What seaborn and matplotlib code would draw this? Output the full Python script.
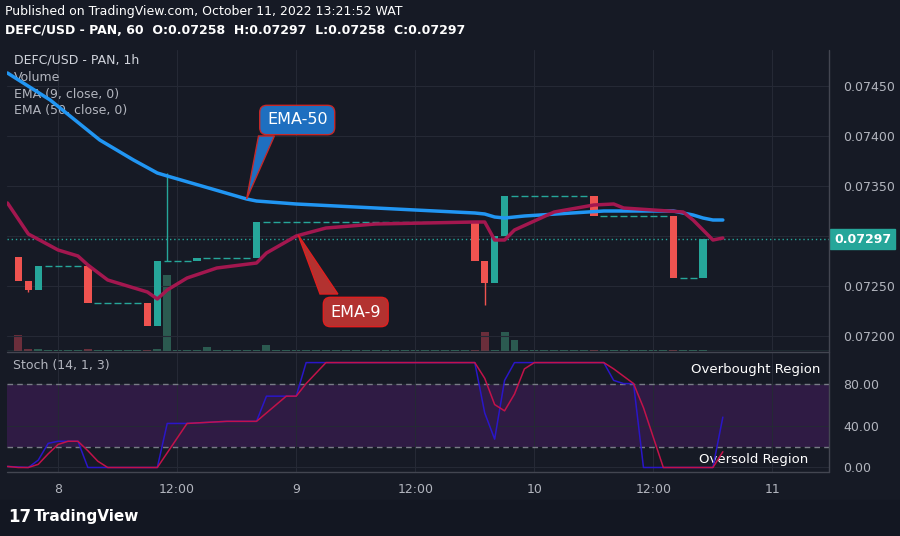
import numpy as np
import pandas as pd
import matplotlib
matplotlib.use('Agg')
import matplotlib.pyplot as plt
from matplotlib.patches import Polygon
import seaborn as sns

# hourly candles, index 0 = Oct 8 00:00
bar_idx = list(range(-4, 68))
first_open = 0.07279
closes = [0.07255, 0.07246, 0.07270, 0.07270, 0.07270, 0.07270, 0.07270, 0.07233,
          0.07233, 0.07233, 0.07233, 0.07233, 0.07233, 0.07210, 0.07275, 0.07275,
          0.07275, 0.07275, 0.07278, 0.07278, 0.07278, 0.07278, 0.07278, 0.07278,
          0.07314, 0.07314, 0.07314, 0.07314, 0.07314, 0.07314, 0.07314, 0.07314,
          0.07314, 0.07314, 0.07314, 0.07314, 0.07314, 0.07314, 0.07314, 0.07314,
          0.07314, 0.07314, 0.07314, 0.07314, 0.07314, 0.07314, 0.07275, 0.07253,
          0.07300, 0.07340, 0.07340, 0.07340, 0.07340, 0.07340, 0.07340, 0.07340,
          0.07340, 0.07340, 0.07320, 0.07320, 0.07320, 0.07320, 0.07320, 0.07320,
          0.07320, 0.07320, 0.07258, 0.07258, 0.07258, 0.07297]
wick_high = {11: 0.07363}
wick_low = {-3: 0.07244, 43: 0.07231}
volumes = {-4: 16, -3: 2, -2: 2, 3: 2, 10: 2, 11: 76, 15: 4, 21: 6, 43: 19,
           44: 1, 45: 19, 46: 11, 56: 1, 64: 1, 67: 12}

ema50_idx = [-5.1, -0.8, 4.2, 7.6, 10, 11, 19, 20, 24, 40, 42, 43, 44, 45, 47, 55, 62, 64, 65, 66, 67]
ema50_val = [0.07463, 0.07436, 0.07396, 0.07376, 0.07363, 0.07360, 0.07337, 0.07335, 0.07332,
             0.07324, 0.07323, 0.07322, 0.07319, 0.07318, 0.07320, 0.07325, 0.07325, 0.07321,
             0.07318, 0.07316, 0.07316]
ema9_idx = [-5.1, -3, 0, 2, 3, 5, 9, 10, 11, 13, 16, 20, 21, 24, 27, 32, 42, 43, 44, 45, 46,
            50, 54, 56, 57, 63, 64, 66, 67]
ema9_val = [0.07333, 0.07302, 0.07286, 0.07280, 0.07271, 0.07256, 0.07244, 0.07237, 0.07246,
            0.07258, 0.07268, 0.07273, 0.07283, 0.07300, 0.07308, 0.07312, 0.07314, 0.07314,
            0.07296, 0.07296, 0.07306, 0.07324, 0.07331, 0.07332, 0.07328, 0.07324, 0.07316,
            0.07296, 0.07298]

k_idx = [-5.1, -3, -2, -1, 0, 2, 3, 10, 11, 13, 17, 20, 21, 24, 25, 42, 43, 44, 45, 46, 55,
         56, 57, 58, 59, 66, 67]
k_val = [1, 0, 7, 23, 25, 25, 0, 0, 42, 42, 44, 44, 68, 68, 100, 100, 52, 27, 83, 100, 100,
         83, 80, 80, 0, 0, 48]
d_idx = [-5.1, -4, -3, -2, -1, 0, 1, 2, 3, 4, 5, 10, 11, 13, 17, 20, 21, 23, 24, 25, 27, 42,
         43, 44, 45, 46, 47, 48, 55, 56, 58, 59, 61, 66, 67]
d_val = [1, 0, 0, 3, 13, 22, 25, 25, 16, 6, 0, 0, 14, 42, 44, 44, 52, 68, 68, 80, 100, 100,
         85, 60, 54, 70, 94, 100, 100, 94, 80, 57, 0, 0, 15]

time_ticks = [0, 12, 24, 36, 48, 60, 72]
time_labels = ['8', '12:00', '9', '12:00', '10', '12:00', '11']
price_ticks = [0.07200, 0.07250, 0.07300, 0.07350, 0.07400, 0.07450]
last_price = 0.07297

BG = '#161a25'
GRID = '#252935'
TXT = '#b2b5be'
UP = '#26a69a'
DOWN = '#ef5350'

sns.set_theme(style='dark')
plt.rcParams['patch.edgecolor'] = 'none'
W, H = 900, 536
fig = plt.figure(figsize=(9, 5.36), dpi=100, facecolor=BG)


def frac(x0, y0, x1, y1):
    return [x0 / W, 1 - y1 / H, (x1 - x0) / W, (y1 - y0) / H]


ax = fig.add_axes(frac(7, 50, 829, 351))
axs = fig.add_axes(frac(7, 352, 829, 472))

# volume on a twin axis (behind the price pane)
axv = ax.twinx()
axv.set_ylim(0, 301)
axv.set_axis_off()

for a in (ax, axs):
    a.set_facecolor(BG)
    a.set_xlim(-5.15, 77.7)
    a.set_xticks(time_ticks)
    a.grid(True, color=GRID, lw=0.8)
    for s in a.spines.values():
        s.set_visible(False)
    a.tick_params(length=0, colors=TXT, labelsize=9)
    a.yaxis.tick_right()
    a.yaxis.set_label_position('right')

opens = [first_open] + closes[:-1]
vol_x, vol_h, vol_c = [], [], []
for i, o, c in zip(bar_idx, opens, closes):
    vol_x.append(i)
    vol_h.append(max(volumes.get(i, 0), 1))
    vol_c.append('#6b2e3b' if c < o else '#2b5a50')
axv.bar(vol_x, vol_h, width=0.8, color=vol_c, lw=0, zorder=1)
axv.axhline(0.5, color='#3b6b60', lw=1)
ax.set_zorder(axv.get_zorder() + 1)
ax.patch.set_visible(False)
fig.patches.append(plt.Rectangle((7 / W, 1 - 351 / H), 822 / W, 301 / H,
                                 transform=fig.transFigure, color=BG, zorder=-5))

# candles
for i, o, c in zip(bar_idx, opens, closes):
    col = DOWN if c < o else UP
    hi = wick_high.get(i, max(o, c))
    lo = wick_low.get(i, min(o, c))
    if hi > max(o, c) or lo < min(o, c):
        ax.vlines(i, lo, hi, color=col, lw=1, zorder=3)
    if abs(c - o) < 1e-9:
        ax.hlines(c, i - 0.35, i + 0.35, color=UP, lw=1, zorder=3)
    else:
        ax.bar(i, abs(c - o), bottom=min(o, c), width=0.75, color=col, lw=0, zorder=3)

ema = pd.DataFrame({'x': ema50_idx, 'y': ema50_val})
sns.lineplot(data=ema, x='x', y='y', ax=ax, color='#2196f3', lw=2.5, zorder=4)
ema = pd.DataFrame({'x': ema9_idx, 'y': ema9_val})
sns.lineplot(data=ema, x='x', y='y', ax=ax, color='#a3174f', lw=2.5, zorder=4)
ax.axhline(last_price, color=UP, lw=1, ls=(0, (1, 2)), zorder=2)

ax.set_ylim(0.07185, 0.07486)
ax.set_yticks(price_ticks)
# the 0.07300 label is hidden under the last-price tag
ax.set_yticklabels(['' if abs(p - last_price) < 0.0001 else '%.5f' % p for p in price_ticks])
ax.set_xticklabels([])
ax.set_xlabel('')
ax.set_ylabel('')
ax.tick_params(axis='y', pad=10)

# price label
ax.text(78.2, last_price, '%.5f' % last_price, color='white', fontsize=9, fontweight='bold',
        va='center', ha='left', zorder=10, clip_on=False,
        bbox=dict(boxstyle='square,pad=0.3', fc=UP, ec=UP))

# callouts
ax.add_patch(Polygon([[19, 0.07337], [20.2, 0.07400], [21.8, 0.07400]], closed=True,
                     fc='#1e6fc0', ec='#c62828', lw=1, zorder=6))
ax.text(24.1, 0.07416, 'EMA-50', color='white', fontsize=11.5, ha='center', va='center', zorder=7,
        bbox=dict(boxstyle='round,pad=0.45', fc='#1e6fc0', ec='#c62828', lw=1))
ax.add_patch(Polygon([[24.2, 0.07301], [26.4, 0.07242], [28.2, 0.07242]], closed=True,
                     fc='#b33230', ec='#e01f1f', lw=1, zorder=6))
ax.text(30.0, 0.07224, 'EMA-9', color='white', fontsize=11.5, ha='center', va='center', zorder=7,
        bbox=dict(boxstyle='round,pad=0.45', fc='#b33230', ec='#e01f1f', lw=1))

# stochastic
axs.axhspan(20, 80, color='#7b1fa2', alpha=0.25, lw=0, zorder=0)
axs.axhline(80, color='#787b86', lw=1, ls=(0, (4, 3)))
axs.axhline(20, color='#787b86', lw=1, ls=(0, (4, 3)))
sns.lineplot(data=pd.DataFrame({'x': k_idx, 'y': k_val}), x='x', y='y', ax=axs,
             color='#2a16c8', lw=1.1, zorder=4)
sns.lineplot(data=pd.DataFrame({'x': d_idx, 'y': d_val}), x='x', y='y', ax=axs,
             color='#c2124a', lw=1.1, zorder=5)
axs.set_ylim(-4.3, 110.1)
axs.set_yticks([0, 40, 80])
axs.set_yticklabels(['0.00', '40.00', '80.00'])
axs.set_xticklabels(time_labels)
axs.set_xlabel('')
axs.set_ylabel('')
axs.tick_params(axis='y', pad=10)
axs.tick_params(axis='x', pad=8)
axs.text(0.007, 0.86, 'Stoch (14, 1, 3)', transform=axs.transAxes, color=TXT, fontsize=9)
axs.text(0.99, 0.85, 'Overbought Region', transform=axs.transAxes, color='white',
         fontsize=9.5, ha='right', va='center')
axs.text(0.975, 0.105, 'Oversold Region', transform=axs.transAxes, color='white',
         fontsize=9.5, ha='right', va='center')

# pane separators and scale border
fig.add_artist(plt.Line2D([7 / W, 829 / W], [1 - 351.5 / H] * 2, color='#434651', lw=1))
fig.add_artist(plt.Line2D([829 / W] * 2, [1 - 472 / H, 1 - 50 / H], color='#434651', lw=1))
fig.add_artist(plt.Line2D([7 / W, 829 / W], [1 - 472 / H] * 2, color='#434651', lw=1))

# legend texts
ax.text(0.008, 0.955, 'DEFC/USD - PAN, 1h', transform=ax.transAxes, color='#d1d4dc', fontsize=9)
for k, t in enumerate(['Volume', 'EMA (9, close, 0)', 'EMA (50, close, 0)']):
    ax.text(0.008, 0.898 - 0.056 * k, t, transform=ax.transAxes, color=TXT, fontsize=9)

fig.text(5 / W, 1 - 12 / H, 'Published on TradingView.com, October 11, 2022 13:21:52 WAT',
         color='white', fontsize=9, va='center')
fig.text(5 / W, 1 - 30 / H, 'DEFC/USD - PAN, 60  O:0.07258  H:0.07297  L:0.07258  C:0.07297',
         color='white', fontsize=9, va='center', fontweight='bold')

fig.patches.append(plt.Rectangle((0, 0), 1, 36 / H, transform=fig.transFigure,
                                 color='#131722', zorder=-4))
fig.text(8 / W, 1 - 517 / H, '17', color='white', fontsize=12, fontweight='bold', va='center')
fig.text(34 / W, 1 - 517 / H, 'TradingView', color='white', fontsize=11, fontweight='bold',
         va='center')

fig.savefig('out.png', dpi=100, facecolor=BG)
